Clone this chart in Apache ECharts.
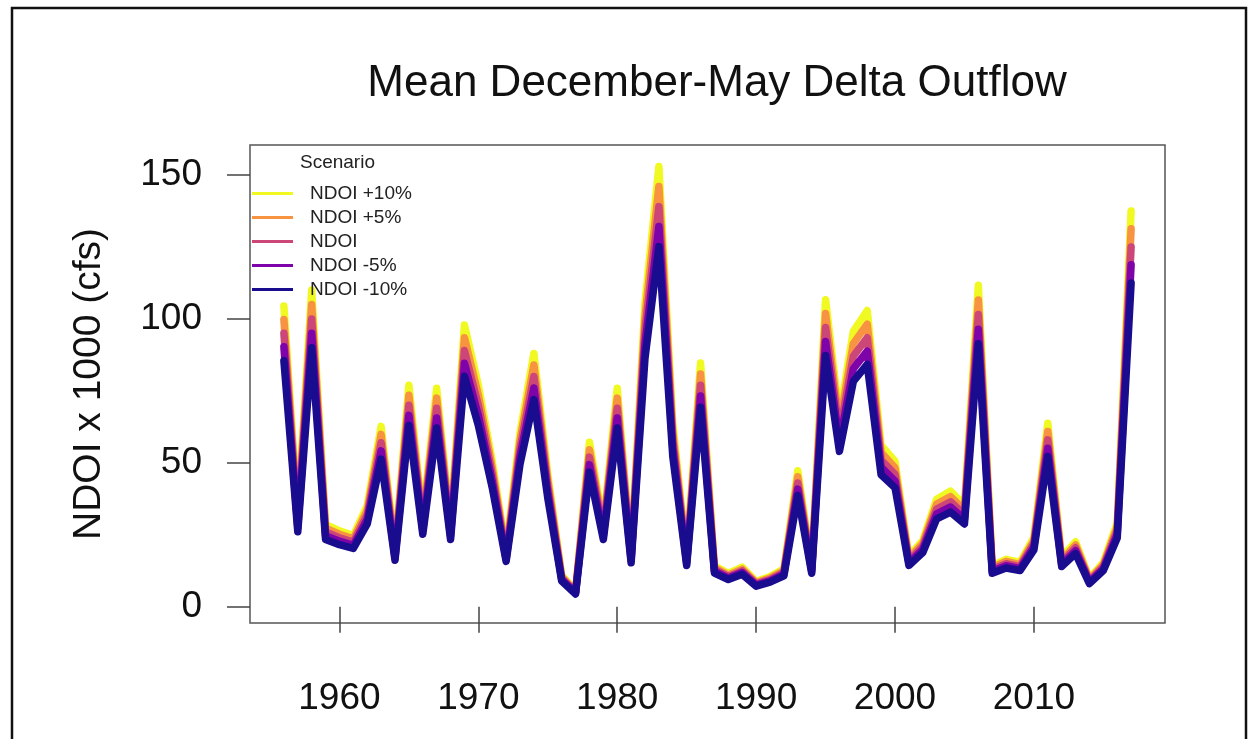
<!DOCTYPE html>
<html>
<head>
<meta charset="utf-8">
<title>Mean December-May Delta Outflow</title>
<script src="https://cdn.jsdelivr.net/npm/echarts@6/dist/echarts.min.js"></script>
<style>
  html, body { margin: 0; padding: 0; background: #ffffff; }
  #chart { width: 1252px; height: 739px; }
</style>
</head>
<body>
<div id="chart"></div>
<script>
// Water years
const years = [
  1956, 1957, 1958, 1959, 1960, 1961, 1962, 1963, 1964, 1965,
  1966, 1967, 1968, 1969, 1970, 1971, 1972, 1973, 1974, 1975,
  1976, 1977, 1978, 1979, 1980, 1981, 1982, 1983, 1984, 1985,
  1986, 1987, 1988, 1989, 1990, 1991, 1992, 1993, 1994, 1995,
  1996, 1997, 1998, 1999, 2000, 2001, 2002, 2003, 2004, 2005,
  2006, 2007, 2008, 2009, 2010, 2011, 2012, 2013, 2014, 2015,
  2016, 2017
];

// Mean Dec-May net Delta outflow index, thousand cfs, per scenario
const ndoiPlus10 = [
  104.5, 31.9, 110.0, 28.6, 26.4, 24.8, 35.2, 62.7, 19.8, 77.0,
  30.8, 75.9, 28.6, 97.9, 77.0, 50.6, 19.3, 60.5, 88.0, 46.2,
  11.0, 5.5, 57.2, 28.6, 75.9, 18.7, 105.6, 152.9, 63.8, 17.6,
  84.7, 14.3, 11.6, 13.8, 8.8, 10.5, 13.2, 47.3, 14.3, 106.7,
  66.0, 95.7, 102.9, 56.1, 50.6, 17.6, 23.1, 37.4, 40.2, 35.2,
  111.7, 14.3, 16.5, 15.4, 24.2, 63.8, 17.1, 22.6, 9.9, 15.4,
  29.2, 137.5
];
const ndoiPlus5 = [
  99.8, 30.5, 105.0, 27.3, 25.2, 23.6, 33.6, 59.9, 18.9, 73.5,
  29.4, 72.5, 27.3, 93.5, 73.5, 48.3, 18.4, 57.8, 84.0, 44.1,
  10.5, 5.3, 54.6, 27.3, 72.5, 17.9, 100.8, 146.0, 60.9, 16.8,
  80.9, 13.7, 11.0, 13.1, 8.4, 10.0, 12.6, 45.2, 13.7, 101.9,
  63.0, 91.4, 98.2, 53.6, 48.3, 16.8, 22.1, 35.7, 38.3, 33.6,
  106.6, 13.7, 15.8, 14.7, 23.1, 60.9, 16.3, 21.5, 9.5, 14.7,
  27.8, 131.3
];
const ndoiBase = [
  95.0, 29.0, 100.0, 26.0, 24.0, 22.5, 32.0, 57.0, 18.0, 70.0,
  28.0, 69.0, 26.0, 89.0, 70.0, 46.0, 17.5, 55.0, 80.0, 42.0,
  10.0, 5.0, 52.0, 26.0, 69.0, 17.0, 96.0, 139.0, 58.0, 16.0,
  77.0, 13.0, 10.5, 12.5, 8.0, 9.5, 12.0, 43.0, 13.0, 97.0,
  60.0, 87.0, 93.5, 51.0, 46.0, 16.0, 21.0, 34.0, 36.5, 32.0,
  101.5, 13.0, 15.0, 14.0, 22.0, 58.0, 15.5, 20.5, 9.0, 14.0,
  26.5, 125.0
];
const ndoiMinus5 = [
  90.3, 27.6, 95.0, 24.7, 22.8, 21.4, 30.4, 54.2, 17.1, 66.5,
  26.6, 65.6, 24.7, 84.6, 66.5, 43.7, 16.6, 52.3, 76.0, 39.9,
  9.5, 4.8, 49.4, 24.7, 65.6, 16.2, 91.2, 132.1, 55.1, 15.2,
  73.2, 12.4, 10.0, 11.9, 7.6, 9.0, 11.4, 40.9, 12.4, 92.2,
  57.0, 82.7, 88.8, 48.5, 43.7, 15.2, 20.0, 32.3, 34.7, 30.4,
  96.4, 12.4, 14.3, 13.3, 20.9, 55.1, 14.7, 19.5, 8.6, 13.3,
  25.2, 118.8
];
const ndoiMinus10 = [
  85.5, 26.1, 90.0, 23.4, 21.6, 20.3, 28.8, 51.3, 16.2, 63.0,
  25.2, 62.1, 23.4, 80.1, 63.0, 41.4, 15.8, 49.5, 72.0, 37.8,
  9.0, 4.5, 46.8, 23.4, 62.1, 15.3, 86.4, 125.1, 52.2, 14.4,
  69.3, 11.7, 9.5, 11.3, 7.2, 8.6, 10.8, 38.7, 11.7, 87.3,
  54.0, 78.3, 84.2, 45.9, 41.4, 14.4, 18.9, 30.6, 32.9, 28.8,
  91.4, 11.7, 13.5, 12.6, 19.8, 52.2, 14.0, 18.5, 8.1, 12.6,
  23.9, 112.5
];

const scenarioNames = ['NDOI +10%', 'NDOI +5%', 'NDOI', 'NDOI -5%', 'NDOI -10%'];
const scenarioValues = [ndoiPlus10, ndoiPlus5, ndoiBase, ndoiMinus5, ndoiMinus10];
const scenarioColors = ['#F0F921', '#F89441', '#CC4678', '#7E03A8', '#1A0C8F'];

const xTickValues = [1960, 1970, 1980, 1990, 2000, 2010];
const yTickValues = [0, 50, 100, 150];

const FONT = '"Liberation Sans", Arial, Helvetica, sans-serif';

const chart = echarts.init(document.getElementById('chart'), null, { renderer: 'canvas' });

// +10% is drawn first so the -10% line ends up on top
const series = scenarioNames.map((name, i) => ({
  name: name,
  type: 'line',
  data: years.map((y, j) => [y, scenarioValues[i][j]]),
  showSymbol: false,
  symbol: 'none',
  color: scenarioColors[i],
  lineStyle: { width: 7.5, color: scenarioColors[i], join: 'round', cap: 'round' },
  z: 2 + i,
  silent: true
}));

chart.setOption({
  animation: false,
  backgroundColor: '#ffffff',
  title: [
    {
      text: 'Mean December-May Delta Outflow',
      left: 712,
      top: 57,
      textAlign: 'center',
      textStyle: { fontFamily: FONT, fontSize: 44, fontWeight: 'normal', color: '#111' }
    },
    {
      text: 'Scenario',
      left: 300,
      top: 153,
      padding: 0,
      textStyle: { fontFamily: FONT, fontSize: 19, fontWeight: 'normal', color: '#222' }
    }
  ],
  legend: {
    data: scenarioNames,
    orient: 'vertical',
    left: 252,
    top: 184,
    padding: 0,
    itemGap: 5,
    itemWidth: 41,
    itemHeight: 3,
    icon: 'rect',
    selectedMode: false,
    textStyle: { fontFamily: FONT, fontSize: 19, color: '#222', lineHeight: 16, padding: [0, 0, 0, 12] }
  },
  grid: {
    left: 250,
    top: 145,
    right: 87,
    bottom: 116,
    show: true,
    borderColor: '#555',
    borderWidth: 1.5,
    backgroundColor: 'transparent'
  },
  xAxis: {
    type: 'value',
    min: 1953.56,
    max: 2019.44,
    splitLine: { show: false },
    axisLine: { show: false },
    axisTick: { show: true, length: 26, inside: false, customValues: xTickValues,
      lineStyle: { color: '#444', width: 1.5 } },
    axisLabel: { show: true, customValues: xTickValues, margin: 57,
      fontFamily: FONT, fontSize: 37, color: '#111',
      formatter: v => String(v) }
  },
  yAxis: {
    type: 'value',
    min: -5.6,
    max: 160.4,
    name: 'NDOI x 1000 (cfs)',
    nameLocation: 'middle',
    nameGap: 141,
    nameTextStyle: { fontFamily: FONT, fontSize: 39, color: '#111' },
    splitLine: { show: false },
    axisLine: { show: false },
    axisTick: { show: true, length: 23, inside: false, customValues: yTickValues,
      lineStyle: { color: '#444', width: 1.5 } },
    axisLabel: { show: true, customValues: yTickValues, margin: 48,
      fontFamily: FONT, fontSize: 37, color: '#111',
      formatter: v => String(v) }
  },
  graphic: [
    {
      type: 'rect',
      silent: true,
      z: 100,
      shape: { x: 12, y: 8, width: 1234, height: 760 },
      style: { fill: 'none', stroke: '#111', lineWidth: 2.5 }
    }
  ],
  series: series
});
</script>
</body>
</html>
